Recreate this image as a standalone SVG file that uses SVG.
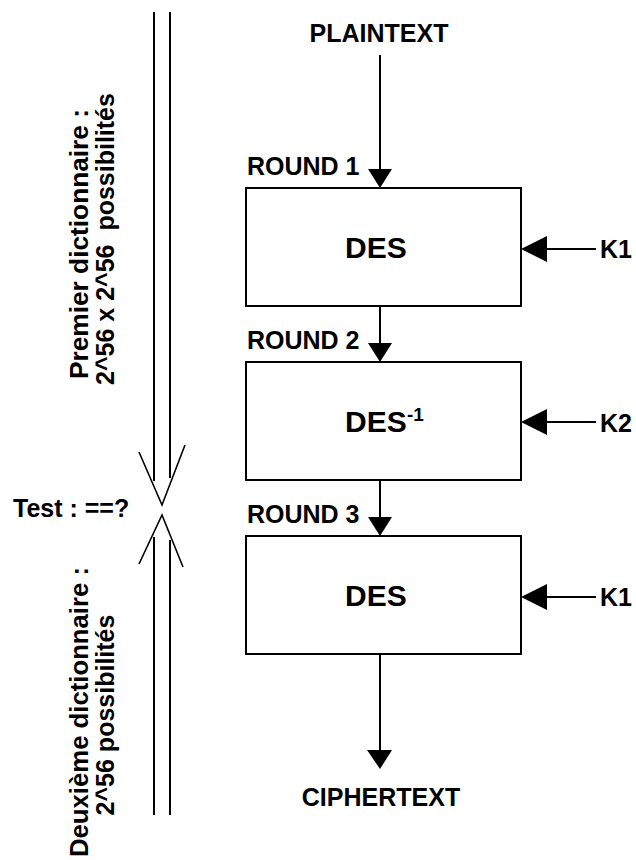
<svg xmlns="http://www.w3.org/2000/svg" width="636" height="860" viewBox="0 0 636 860">
<style>
text{font-family:"Liberation Sans",Arial,sans-serif;font-weight:bold;fill:#000}
.lbl{font-size:25px}
.des{font-size:30px}
.box{fill:#fff;stroke:#000;stroke-width:2}
.ln{stroke:#000;stroke-width:2;fill:none}
.thin{stroke:#000;stroke-width:1.6;fill:none}
.ah{fill:#000}
</style>
<rect width="636" height="860" fill="#fff"/>
<g id="separator">
<line class="ln" x1="154" y1="12" x2="154" y2="481"/>
<line class="ln" x1="170" y1="12" x2="170" y2="478"/>
<line class="ln" x1="154" y1="537" x2="154" y2="815"/>
<line class="ln" x1="170" y1="540" x2="170" y2="815"/>
<polyline class="thin" points="139,452 162,505 185,445"/>
<polyline class="thin" points="139,564 162,515 183,567"/>
</g>
<g id="labels-left">
<text class="lbl" transform="translate(88,244) rotate(-90)" text-anchor="middle" textLength="270" lengthAdjust="spacingAndGlyphs">Premier dictionnaire :</text>
<text class="lbl" transform="translate(114,239) rotate(-90)" text-anchor="middle" xml:space="preserve">2^56 x 2^56  possibilités</text>
<text class="lbl" transform="translate(88,712) rotate(-90)" text-anchor="middle" textLength="290" lengthAdjust="spacingAndGlyphs">Deuxième dictionnaire :</text>
<text class="lbl" transform="translate(114,715) rotate(-90)" text-anchor="middle">2^56 possibilités</text>
<text class="lbl" x="13" y="517">Test : ==?</text>
</g>
<g id="plaintext"><text class="lbl" x="379" y="42" text-anchor="middle">PLAINTEXT</text></g>
<g id="ciphertext"><text class="lbl" x="381" y="806" text-anchor="middle">CIPHERTEXT</text></g>
<g id="round1">
<text class="lbl" x="247" y="175">ROUND 1</text>
<rect class="box" x="246" y="188" width="275" height="118"/>
<text class="des" x="345" y="258">DES</text>
</g>
<g id="round2">
<text class="lbl" x="247" y="349">ROUND 2</text>
<rect class="box" x="246" y="362" width="275" height="118"/>
<text class="des" x="345" y="432">DES<tspan font-size="19" x="407" y="421">-1</tspan></text>
</g>
<g id="round3">
<text class="lbl" x="247" y="523">ROUND 3</text>
<rect class="box" x="246" y="536" width="275" height="118"/>
<text class="des" x="345" y="606">DES</text>
</g>
<g id="keys">
<text class="lbl" x="600" y="258">K1</text>
<text class="lbl" x="600" y="432">K2</text>
<text class="lbl" x="600" y="606">K1</text>
</g>
<g id="connectors">
<line class="ln" x1="380" y1="55" x2="380" y2="172"/>
<polygon class="ah" points="368,169 392,169 380,188"/>
<line class="ln" x1="380" y1="306" x2="380" y2="346"/>
<polygon class="ah" points="368,343 392,343 380,362"/>
<line class="ln" x1="380" y1="480" x2="380" y2="520"/>
<polygon class="ah" points="368,517 392,517 380,536"/>
<line class="ln" x1="380" y1="654" x2="380" y2="752"/>
<polygon class="ah" points="367,750 392,750 380,769"/>
<line class="ln" x1="545" y1="249" x2="596" y2="249"/>
<polygon class="ah" points="521,249 547,236 547,262"/>
<line class="ln" x1="545" y1="422" x2="596" y2="422"/>
<polygon class="ah" points="521,422 547,409 547,435"/>
<line class="ln" x1="545" y1="597" x2="596" y2="597"/>
<polygon class="ah" points="521,597 547,584 547,610"/>
</g>
</svg>
